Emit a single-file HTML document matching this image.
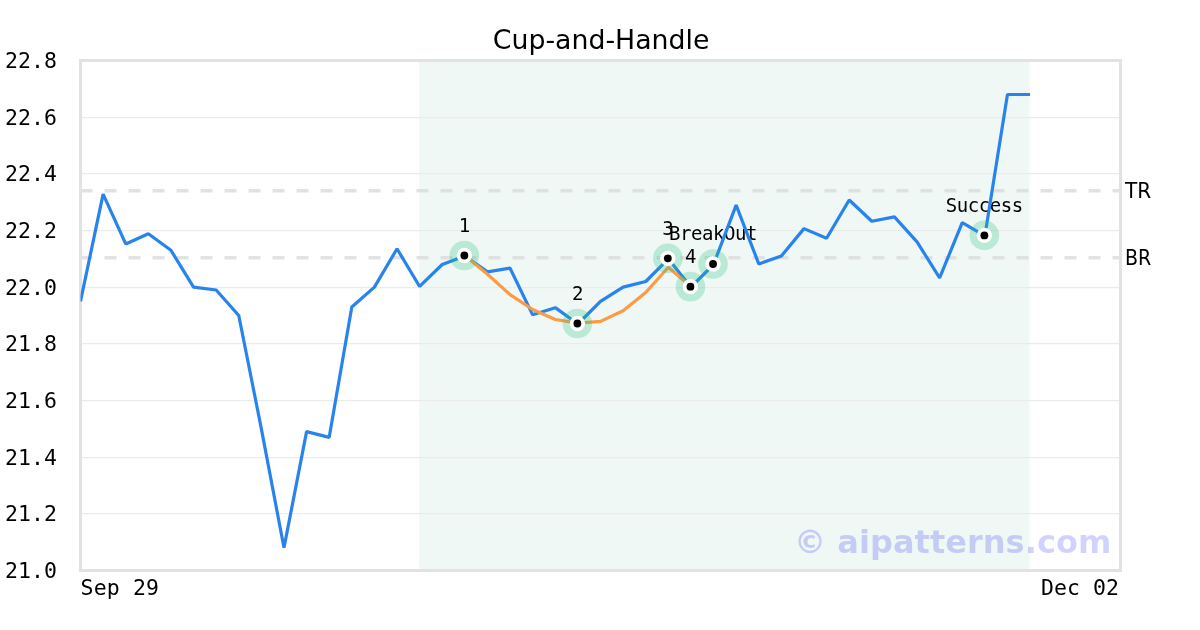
<!DOCTYPE html>
<html lang="en"><head><meta charset="utf-8"><title>Cup-and-Handle</title>
<style>
html,body{margin:0;padding:0;background:#fff;}
body{width:1200px;height:630px;overflow:hidden;}
svg{display:block;}
text{fill:#000;}
</style></head><body>
<svg width="1200" height="630" viewBox="0 0 1200 630">
<defs><clipPath id="axclip"><rect x="80.5" y="60.5" width="1040.0" height="510.0"/></clipPath></defs>
<rect x="0" y="0" width="1200" height="630" fill="#fff"/>
<rect x="419.13" y="60.5" width="610.43" height="510.0" fill="#eff8f5"/>
<line x1="80.5" x2="1120.5" y1="570.62" y2="570.62" stroke="#ebebeb" stroke-width="1.25"/>
<line x1="80.5" x2="1120.5" y1="513.62" y2="513.62" stroke="#ebebeb" stroke-width="1.25"/>
<line x1="80.5" x2="1120.5" y1="457.62" y2="457.62" stroke="#ebebeb" stroke-width="1.25"/>
<line x1="80.5" x2="1120.5" y1="400.62" y2="400.62" stroke="#ebebeb" stroke-width="1.25"/>
<line x1="80.5" x2="1120.5" y1="343.62" y2="343.62" stroke="#ebebeb" stroke-width="1.25"/>
<line x1="80.5" x2="1120.5" y1="287.62" y2="287.62" stroke="#ebebeb" stroke-width="1.25"/>
<line x1="80.5" x2="1120.5" y1="230.62" y2="230.62" stroke="#ebebeb" stroke-width="1.25"/>
<line x1="80.5" x2="1120.5" y1="173.62" y2="173.62" stroke="#ebebeb" stroke-width="1.25"/>
<line x1="80.5" x2="1120.5" y1="117.62" y2="117.62" stroke="#ebebeb" stroke-width="1.25"/>
<line x1="80.5" x2="1120.5" y1="60.62" y2="60.62" stroke="#ebebeb" stroke-width="1.25"/>
<line x1="80.5" x2="1120.5" y1="190.7" y2="190.7" stroke="#dbdbdb" stroke-opacity="0.8" stroke-width="3.5" stroke-dasharray="12 12"/>
<line x1="80.5" x2="1120.5" y1="257.7" y2="257.7" stroke="#dbdbdb" stroke-opacity="0.8" stroke-width="3.5" stroke-dasharray="12 12"/>
<rect x="80.5" y="60.5" width="1040.0" height="510.0" fill="none" stroke="#e2e2e2" stroke-width="3"/>
<text x="464.35" y="231.80" text-anchor="middle" style="font-family:'DejaVu Sans Mono','Liberation Mono',monospace;font-size:19px;letter-spacing:-0.44px">1</text>
<text x="577.39" y="299.80" text-anchor="middle" style="font-family:'DejaVu Sans Mono','Liberation Mono',monospace;font-size:19px;letter-spacing:-0.44px">2</text>
<text x="667.83" y="234.63" text-anchor="middle" style="font-family:'DejaVu Sans Mono','Liberation Mono',monospace;font-size:19px;letter-spacing:-0.44px">3</text>
<text x="690.43" y="262.97" text-anchor="middle" style="font-family:'DejaVu Sans Mono','Liberation Mono',monospace;font-size:19px;letter-spacing:-0.44px">4</text>
<text x="713.04" y="240.30" text-anchor="middle" style="font-family:'DejaVu Sans Mono','Liberation Mono',monospace;font-size:19px;letter-spacing:-0.44px">BreakOut</text>
<text x="984.35" y="211.68" text-anchor="middle" style="font-family:'DejaVu Sans Mono','Liberation Mono',monospace;font-size:19px;letter-spacing:-0.44px">Success</text>
<g clip-path="url(#axclip)">
<polyline points="80.50,301.33 103.11,194.09 125.72,243.93 148.33,233.73 170.93,250.33 193.54,287.17 216.15,290.00 238.76,315.50 261.37,428.83 283.98,547.72 306.59,431.67 329.20,437.33 351.80,307.00 374.41,287.17 397.02,248.78 419.63,286.46 442.24,264.50 464.85,256.00 487.46,271.87 510.07,268.18 532.67,314.85 555.28,307.65 577.89,324.00 600.50,301.33 623.11,287.17 645.72,281.50 668.33,258.83 690.93,287.17 713.54,264.50 736.15,205.06 758.76,263.91 781.37,256.00 803.98,228.63 826.59,238.26 849.20,199.96 871.80,221.23 894.41,216.93 917.02,241.83 939.63,277.90 962.24,222.62 984.85,235.88 1007.46,94.50 1030.07,94.50" fill="none" stroke="#2884ec" stroke-width="3.2" stroke-linejoin="bevel" stroke-linecap="butt"/>
<polyline points="464.85,255.60 487.46,274.30 510.07,294.60 532.67,309.50 555.28,319.50 577.89,323.20 600.50,321.40 623.11,310.70 645.72,292.50 668.33,267.20 690.93,286.70" fill="none" stroke="#fd9a44" stroke-width="3.2" stroke-linejoin="bevel" stroke-linecap="butt"/>
<circle cx="464.35" cy="255.50" r="14.8" fill="#23bc80" fill-opacity="0.26"/>
<circle cx="577.39" cy="323.50" r="14.8" fill="#23bc80" fill-opacity="0.26"/>
<circle cx="667.83" cy="258.33" r="14.8" fill="#23bc80" fill-opacity="0.26"/>
<circle cx="690.43" cy="286.67" r="14.8" fill="#23bc80" fill-opacity="0.26"/>
<circle cx="713.04" cy="264.00" r="14.8" fill="#23bc80" fill-opacity="0.26"/>
<circle cx="984.35" cy="235.38" r="14.8" fill="#23bc80" fill-opacity="0.26"/>
<circle cx="464.35" cy="255.50" r="7.7" fill="#fff"/>
<circle cx="464.35" cy="255.50" r="3.9" fill="#000"/>
<circle cx="577.39" cy="323.50" r="7.7" fill="#fff"/>
<circle cx="577.39" cy="323.50" r="3.9" fill="#000"/>
<circle cx="667.83" cy="258.33" r="7.7" fill="#fff"/>
<circle cx="667.83" cy="258.33" r="3.9" fill="#000"/>
<circle cx="690.43" cy="286.67" r="7.7" fill="#fff"/>
<circle cx="690.43" cy="286.67" r="3.9" fill="#000"/>
<circle cx="713.04" cy="264.00" r="7.7" fill="#fff"/>
<circle cx="713.04" cy="264.00" r="3.9" fill="#000"/>
<circle cx="984.35" cy="235.38" r="7.7" fill="#fff"/>
<circle cx="984.35" cy="235.38" r="3.9" fill="#000"/>
</g>
<text x="601.15" y="48.7" text-anchor="middle" style="font-family:'DejaVu Sans','Liberation Sans',sans-serif;font-size:26.76px">Cup-and-Handle</text>
<text x="57.0" y="578.20" text-anchor="end" style="font-family:'DejaVu Sans Mono','Liberation Mono',monospace;font-size:21.5px;letter-spacing:0.057px">21.0</text>
<text x="57.0" y="521.20" text-anchor="end" style="font-family:'DejaVu Sans Mono','Liberation Mono',monospace;font-size:21.5px;letter-spacing:0.057px">21.2</text>
<text x="57.0" y="465.20" text-anchor="end" style="font-family:'DejaVu Sans Mono','Liberation Mono',monospace;font-size:21.5px;letter-spacing:0.057px">21.4</text>
<text x="57.0" y="408.20" text-anchor="end" style="font-family:'DejaVu Sans Mono','Liberation Mono',monospace;font-size:21.5px;letter-spacing:0.057px">21.6</text>
<text x="57.0" y="351.20" text-anchor="end" style="font-family:'DejaVu Sans Mono','Liberation Mono',monospace;font-size:21.5px;letter-spacing:0.057px">21.8</text>
<text x="57.0" y="295.20" text-anchor="end" style="font-family:'DejaVu Sans Mono','Liberation Mono',monospace;font-size:21.5px;letter-spacing:0.057px">22.0</text>
<text x="57.0" y="238.20" text-anchor="end" style="font-family:'DejaVu Sans Mono','Liberation Mono',monospace;font-size:21.5px;letter-spacing:0.057px">22.2</text>
<text x="57.0" y="181.20" text-anchor="end" style="font-family:'DejaVu Sans Mono','Liberation Mono',monospace;font-size:21.5px;letter-spacing:0.057px">22.4</text>
<text x="57.0" y="125.20" text-anchor="end" style="font-family:'DejaVu Sans Mono','Liberation Mono',monospace;font-size:21.5px;letter-spacing:0.057px">22.6</text>
<text x="57.0" y="68.20" text-anchor="end" style="font-family:'DejaVu Sans Mono','Liberation Mono',monospace;font-size:21.5px;letter-spacing:0.057px">22.8</text>
<text x="80.55" y="595" text-anchor="start" style="font-family:'DejaVu Sans Mono','Liberation Mono',monospace;font-size:21.5px;letter-spacing:0.16px">Sep 29</text>
<text x="1040.95" y="595" text-anchor="start" style="font-family:'DejaVu Sans Mono','Liberation Mono',monospace;font-size:21.5px;letter-spacing:0.057px">Dec 02</text>
<text x="1125" y="197.83" style="font-family:'DejaVu Sans','Liberation Sans',sans-serif;font-size:21.4px" textLength="26.2" lengthAdjust="spacingAndGlyphs">TR</text>
<text x="1125" y="264.98" style="font-family:'DejaVu Sans','Liberation Sans',sans-serif;font-size:21.4px" textLength="26.3" lengthAdjust="spacingAndGlyphs">BR</text>
<text x="1111.4" y="553" text-anchor="end" style="font-family:'DejaVu Sans','Liberation Sans',sans-serif;font-weight:bold;font-size:32.1px;fill:#0000ff;fill-opacity:0.175">© aipatterns.com</text>
</svg>
</body></html>
